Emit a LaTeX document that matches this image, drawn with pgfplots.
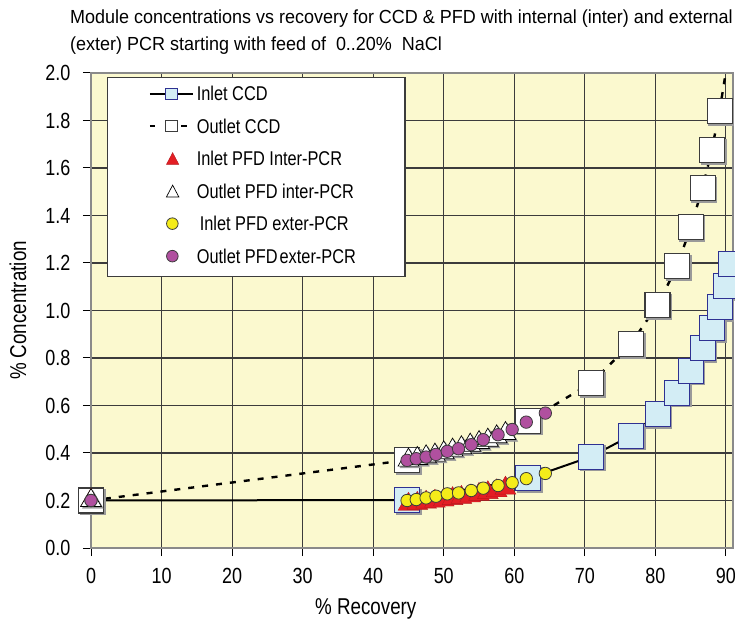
\documentclass[border=0pt]{standalone}
\usepackage{fontspec}
\setmainfont{Liberation Sans}[FakeStretch=0.82]
\newfontfamily\titlefont{Liberation Sans}[FakeStretch=0.95]
\usepackage{pgfplots}
\pgfplotsset{compat=1.18}
\definecolor{bgy}{HTML}{FBF9CF}
\definecolor{lblue}{HTML}{D3EDF5}
\definecolor{navy}{HTML}{2E3192}
\definecolor{redm}{HTML}{E31E24}
\definecolor{yelm}{HTML}{F5EC1A}
\definecolor{magm}{HTML}{B0509F}
\definecolor{gridc}{HTML}{3C3C3C}
\definecolor{framec}{HTML}{8A8A8A}
\definecolor{shad}{HTML}{9A9A9A}
\pgfplotstableread{
x y
0 0.2
44.8 0.202
62.0 0.293
70.9 0.385
76.5 0.473
80.3 0.565
83.1 0.654
85.0 0.747
86.7 0.843
88.0 0.926
89.1 1.015
90.0 1.102
90.7 1.195
}\inccd
\pgfplotstableread{
x y
0 0.2
44.8 0.37
62.0 0.536
70.9 0.695
76.5 0.859
80.3 1.023
83.1 1.187
85.0 1.352
86.7 1.516
88.0 1.677
89.1 1.841
90.0 2.006
}\outccd
\pgfplotstableread{
x y
0 0.2
45.0 0.184
46.25 0.188
47.5 0.193
48.75 0.197
50.0 0.202
51.25 0.208
52.5 0.213
53.75 0.219
55.0 0.226
56.25 0.233
57.5 0.241
58.75 0.252
}\inpfdi
\pgfplotstableread{
x y
0 0.2
45.0 0.370
46.25 0.377
47.5 0.384
48.75 0.391
50.0 0.401
51.25 0.412
52.5 0.422
53.75 0.433
55.0 0.444
56.25 0.454
57.5 0.468
58.75 0.482
}\outpfdi
\pgfplotstableread{
x y
0 0.2
44.8 0.200
46.1 0.204
47.5 0.211
48.9 0.218
50.5 0.228
52.1 0.232
53.9 0.242
55.6 0.252
57.7 0.263
59.7 0.275
61.7 0.292
64.4 0.314
}\inpfde
\pgfplotstableread{
x y
0 0.2
44.8 0.369
46.1 0.376
47.5 0.383
48.9 0.394
50.5 0.407
52.1 0.418
53.9 0.435
55.6 0.456
57.7 0.477
59.7 0.499
61.7 0.530
64.4 0.568
}\outpfde
\begin{document}
\begin{tikzpicture}
\begin{axis}[
  scale only axis, width=642bp, height=475bp,
  at={(91bp,73bp)}, anchor=south west,
  xmin=0, xmax=91, ymin=0, ymax=2.0,
  xtick={0,10,20,30,40,50,60,70,80,90},
  ytick={0,0.2,0.4,0.6,0.8,1.0,1.2,1.4,1.6,1.8,2.0},
  axis background/.style={fill=bgy},
  grid=major, major grid style={gridc, line width=1.1bp},
  axis line style={framec, line width=1.5bp},
  tick style={black, line width=1bp}, major tick length=8bp, tick align=outside,
  tick pos=left,
  tick label style={font=\fontsize{22}{24}\selectfont},
  /pgf/number format/assume math mode=true,
  yticklabel style={xshift=-9bp, /pgf/number format/.cd, fixed, fixed zerofill, precision=1},
  xticklabel style={yshift=-9bp},
  xlabel={\% Recovery},
  xlabel style={at={(axis description cs:0.428,-0.141)}, anchor=base, font=\fontsize{23}{26}\selectfont},
  ylabel={\% Concentration},
  ylabel style={at={(axis description cs:-0.1137,0.5)}, anchor=center, font=\fontsize{23}{26}\selectfont},
  legend cell align=left,
  legend style={at={(rel axis cs:0.025,0.992)}, anchor=north west, draw=gridc, line width=1.2bp, fill=white,
    inner xsep=41bp, inner ysep=2bp, font=\fontsize{20}{22}\selectfont,
    nodes={text height=14bp, text depth=4bp, inner ysep=7.25bp}, row sep=0pt},
]
% Inlet CCD
\addplot[forget plot, black, line width=2bp, solid] table[x=x,y=y] {\inccd};
\addplot[forget plot, only marks, mark=square*, mark size=12.5bp, mark options={fill=shad, draw=shad, xshift=1.5bp, yshift=-1.5bp}] table[x=x,y=y] {\inccd};
\addplot[only marks, mark=square*, mark size=12.5bp, mark options={fill=lblue, draw=navy, line width=1bp, solid},
  legend image code/.code={
    \path[draw=none, fill=none] (0bp,0bp) -- (45bp,0bp);
    \draw[black, line width=2bp, solid] (0bp,2bp) -- (43bp,2bp);
    \path[draw=navy, fill=lblue, line width=0.9bp, solid] (16bp,-3.6bp) rectangle (27.3bp,7.6bp);
  }] table[x=x,y=y] {\inccd};
\addlegendentry{Inlet CCD}
% Outlet CCD
\addplot[forget plot, black, line width=2.4bp, dash pattern=on 6bp off 8bp] table[x=x,y=y] {\outccd};
\addplot[forget plot, only marks, mark=square*, mark size=12.5bp, mark options={fill=shad, draw=shad, xshift=1.5bp, yshift=-1.5bp}] table[x=x,y=y] {\outccd};
\addplot[only marks, mark=square*, mark size=12.5bp, mark options={fill=white, draw=gridc, line width=1.1bp, solid},
  legend image code/.code={
    \path[draw=none, fill=none] (0bp,0bp) -- (45bp,0bp);
    \draw[black, line width=2.4bp, solid] (0bp,2bp) -- (5bp,2bp);
    \draw[black, line width=2.4bp, solid] (31.5bp,2bp) -- (37.5bp,2bp);
    \path[draw=gridc, fill=white, line width=0.9bp, solid] (16bp,-3.6bp) rectangle (27.3bp,7.6bp);
  }] table[x=x,y=y] {\outccd};
\addlegendentry{Outlet CCD}
% Inlet PFD inter-PCR
\addplot[only marks, mark=triangle*, mark size=12bp, mark options={fill=redm, draw=redm!80!black, line width=0.4bp, solid},
  legend image code/.code={
    \path[draw=none, fill=none] (0bp,0bp) -- (45bp,0bp);
    \path[fill=redm, draw=redm!80!black, line width=0.4bp, solid] (16.6bp,-3.8bp) -- (29bp,-3.8bp) -- (22.8bp,8bp) -- cycle;
  }] table[x=x,y=y] {\inpfdi};
\addlegendentry{Inlet PFD Inter-PCR}
% Outlet PFD inter-PCR
\addplot[forget plot, only marks, mark=triangle*, mark size=12bp, mark options={fill=shad, draw=shad, xshift=1.8bp, yshift=-1.8bp}] table[x=x,y=y] {\outpfdi};
\addplot[only marks, mark=triangle*, mark size=12bp, mark options={fill=white, draw=black, line width=0.7bp, solid},
  legend image code/.code={
    \path[draw=none, fill=none] (0bp,0bp) -- (45bp,0bp);
    \path[fill=white, draw=black, line width=0.7bp, solid] (16.6bp,-3.8bp) -- (29bp,-3.8bp) -- (22.8bp,8bp) -- cycle;
  }] table[x=x,y=y] {\outpfdi};
\addlegendentry{Outlet PFD inter-PCR\rule{8bp}{0pt}}
% Inlet PFD exter-PCR
\addplot[only marks, mark=*, mark size=6.2bp, mark options={fill=yelm, draw=gridc, line width=0.8bp, solid},
  legend image code/.code={
    \path[draw=none, fill=none] (0bp,0bp) -- (45bp,0bp);
    \path[fill=yelm, draw=gridc, line width=0.8bp, solid] (22.5bp,2bp) circle[radius=5.8bp];
  }] table[x=x,y=y] {\inpfde};
\addlegendentry{\hspace{3bp}Inlet PFD exter-PCR}
% Outlet PFD exter-PCR
\addplot[only marks, mark=*, mark size=6.2bp, mark options={fill=magm, draw=gridc, line width=0.8bp, solid},
  legend image code/.code={
    \path[draw=none, fill=none] (0bp,0bp) -- (45bp,0bp);
    \path[fill=magm, draw=gridc, line width=0.8bp, solid] (22.5bp,2bp) circle[radius=5.8bp];
  }] table[x=x,y=y] {\outpfde};
\addlegendentry{Outlet PFD\hspace{2bp}exter-PCR}
\end{axis}
\node[anchor=base west, inner sep=0pt, font=\titlefont\fontsize{19}{22}\selectfont] at (70bp,597bp) {Module concentrations vs recovery for CCD \& PFD with internal (inter) and external};
\node[anchor=base west, inner sep=0pt, font=\titlefont\fontsize{19}{22}\selectfont] at (70bp,570bp) {(exter) PCR starting with feed of\ \ 0..20\%\ \ NaCl};
\pgfresetboundingbox
\useasboundingbox (0,0) rectangle (735bp,621bp);
\end{tikzpicture}
\end{document}
